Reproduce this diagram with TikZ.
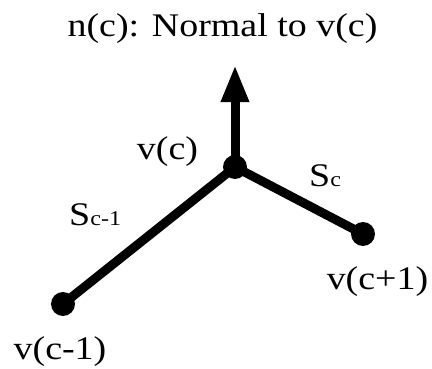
\documentclass[tikz,border=0pt]{standalone}
\usepackage{fontspec}
\setmainfont[FakeStretch=1.15]{Liberation Serif}
\usepackage{tikz}
\usetikzlibrary{arrows.meta,positioning}
\tikzset{
  %% Vertices
  nmDot/.style={circle, fill=black, inner sep=0pt, minimum size=24pt},
  %% Segments and normal
  nmSeg/.style={line width=9pt, black},
  nmArrow/.style={line width=9pt, black, -{Triangle[length=37pt, width=26pt]}},
  %% Labels
  nmLabel/.style={font=\fontsize{33}{36}\selectfont, inner sep=0pt},
}
\newcommand{\nmSub}[1]{{\fontsize{21}{22}\selectfont #1}}

\begin{document}
\begin{tikzpicture}[x=1pt, y=1pt]
\useasboundingbox (0,0) rectangle (432,368);
%% Vertices
\node[nmDot] (vPrev) at ( 63,  64) {};
\node[nmDot] (vCur)  at (235, 201) {};
\node[nmDot] (vNext) at (363, 134) {};
\coordinate (nTip) at (235, 303);

%% Segments
\draw[nmSeg] (vPrev.center) -- (vCur.center);
\draw[nmSeg] (vCur.center) -- (vNext.center);
\draw[nmArrow] (vCur.center) -- (nTip);

%% Labels
\node[nmLabel, anchor=base] (lTitle) at (222.5, 331) {n(c): Normal to v(c)};
\node[nmLabel, anchor=base] (lCur)   at (167.5, 209) {v(c)};
\node[nmLabel, anchor=base] (lPrev)  at ( 60,    9) {v(c-1)};
\node[nmLabel, anchor=base] (lNext)  at (377.5, 79) {v(c+1)};
\node[nmLabel, anchor=base west] (lSegPrev) at (69, 143) {S\nmSub{c-1}};
\node[nmLabel, anchor=base west] (lSegCur)  at (309, 182) {S\nmSub{c}};
\end{tikzpicture}
\end{document}
